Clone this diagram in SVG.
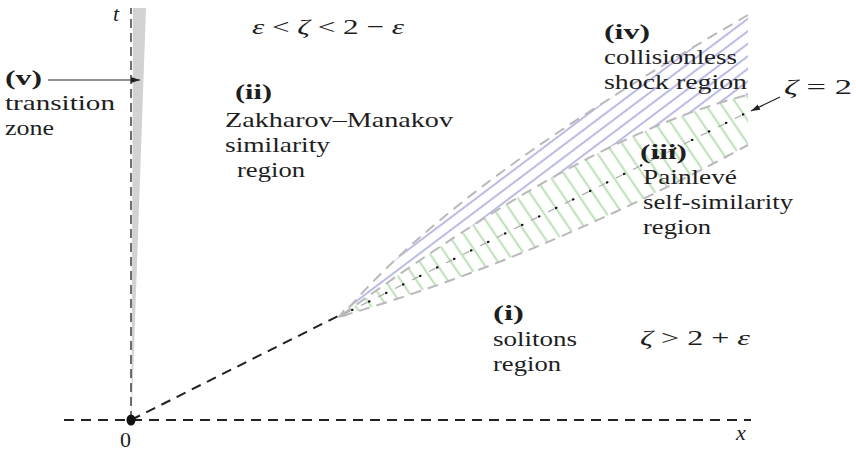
<svg xmlns="http://www.w3.org/2000/svg" width="856" height="455" viewBox="0 0 856 455">
<style>
.t{font-family:"Liberation Serif","Times New Roman",serif;font-size:22px;fill:#1e1e1e}
.b{font-weight:bold}
.i{font-style:italic}
.gb{fill:none;stroke:#b9b9b9;stroke-width:2;stroke-dasharray:11 7}
.ax{fill:none;stroke:#222;stroke-width:2;stroke-dasharray:10 7}
</style>
<defs>
<pattern id="blue" width="10" height="10" patternUnits="userSpaceOnUse" patternTransform="rotate(-37)">
<line x1="0" y1="5" x2="10" y2="5" stroke="#aaaadf" stroke-width="1.6"/>
</pattern>
<pattern id="green" width="13" height="13" patternUnits="userSpaceOnUse" patternTransform="rotate(56)">
<line x1="0" y1="6.5" x2="13" y2="6.5" stroke="#b4dbae" stroke-width="1.8"/>
</pattern>
<marker id="ah" markerWidth="10" markerHeight="8" refX="9" refY="4" orient="auto" markerUnits="userSpaceOnUse">
<path d="M0,1 L9,4 L0,7 Z" fill="#222"/>
</marker>
</defs>

<g id="transition-wedge">
<polygon points="131.5,420 133,8 146,8" fill="#d2d2d2"/>
</g>

<g id="region-iv-fill">
<path d="M342,315 C442,200 598,102 748,15 L748,95 C618,127 472,221 342,315 Z" fill="url(#blue)"/>
</g>
<g id="region-iii-fill">
<path d="M342,315 C472,221 618,127 748,95 L748,145 Q540,258 342,316 Z" fill="url(#green)"/>
</g>

<g id="connectors">
<line class="ax" x1="64" y1="420" x2="751" y2="420"/>
<line x1="131" y1="420" x2="131" y2="8" stroke="#222" stroke-width="1.3" stroke-dasharray="9 5"/>
<line class="ax" x1="131" y1="420" x2="338" y2="316"/>
<path class="gb" d="M748,15 C598,102 442,200 346,311"/>
<path class="gb" d="M342,315 C472,221 618,127 748,95" stroke-dasharray="10 8"/>
<path class="gb" d="M342,316 Q540,258 748,145" stroke-dasharray="10 8"/>
<line x1="344" y1="314" x2="748" y2="112" stroke="#aaaaaa" stroke-width="1.2" stroke-dasharray="7 12"/>
<line x1="352" y1="310" x2="748" y2="112" stroke="#111" stroke-width="2.2" stroke-linecap="round" stroke-dasharray="0.5 18.5"/>
<polygon points="337,318 347.5,316 343.5,309.5" fill="#b9b9b9"/>
<line x1="48" y1="80" x2="140" y2="80" stroke="#222" stroke-width="1.2" marker-end="url(#ah)"/>
<line x1="780" y1="97" x2="751" y2="111" stroke="#222" stroke-width="1.2" marker-end="url(#ah)"/>
<ellipse cx="131" cy="420" rx="4.5" ry="5.5" fill="#111"/>
</g>

<g id="axis-labels">
<text class="t i" x="113" y="21" font-size="24">t</text>
<text class="t" x="120" y="447" font-size="24">0</text>
<text class="t i" x="736" y="440" font-size="24">x</text>
</g>

<g id="cond-top">
<text class="t" x="252" y="34" textLength="152" lengthAdjust="spacingAndGlyphs"><tspan class="i">ε</tspan> &lt; <tspan class="i">ζ</tspan> &lt; 2 − <tspan class="i">ε</tspan></text>
</g>

<g id="node-v">
<text class="t b" x="5" y="85" textLength="37" lengthAdjust="spacingAndGlyphs">(v)</text>
<text class="t" x="5" y="110" textLength="110" lengthAdjust="spacingAndGlyphs">transition</text>
<text class="t" x="5" y="135" textLength="49" lengthAdjust="spacingAndGlyphs">zone</text>
</g>

<g id="node-ii">
<text class="t b" x="235" y="99" textLength="37" lengthAdjust="spacingAndGlyphs">(ii)</text>
<text class="t" x="225" y="127" textLength="228" lengthAdjust="spacingAndGlyphs">Zakharov–Manakov</text>
<text class="t" x="225" y="152" textLength="105" lengthAdjust="spacingAndGlyphs">similarity</text>
<text class="t" x="237" y="177" textLength="68" lengthAdjust="spacingAndGlyphs">region</text>
</g>

<g id="node-iv">
<text class="t b" x="604" y="39" textLength="46" lengthAdjust="spacingAndGlyphs">(iv)</text>
<text class="t" x="604" y="64" textLength="133" lengthAdjust="spacingAndGlyphs">collisionless</text>
<text class="t" x="604" y="89" textLength="143" lengthAdjust="spacingAndGlyphs">shock region</text>
</g>

<g id="label-zeta2">
<text class="t" x="784" y="94" textLength="68" lengthAdjust="spacingAndGlyphs"><tspan class="i">ζ</tspan> = 2</text>
</g>

<g id="node-iii">
<text class="t b" x="640" y="159" textLength="47" lengthAdjust="spacingAndGlyphs">(iii)</text>
<text class="t" x="643" y="184" textLength="94" lengthAdjust="spacingAndGlyphs">Painlevé</text>
<text class="t" x="643" y="209" textLength="150" lengthAdjust="spacingAndGlyphs">self-similarity</text>
<text class="t" x="643" y="234" textLength="68" lengthAdjust="spacingAndGlyphs">region</text>
</g>

<g id="node-i">
<text class="t b" x="493" y="320" textLength="31" lengthAdjust="spacingAndGlyphs">(i)</text>
<text class="t" x="493" y="346" textLength="84" lengthAdjust="spacingAndGlyphs">solitons</text>
<text class="t" x="493" y="371" textLength="68" lengthAdjust="spacingAndGlyphs">region</text>
</g>

<g id="cond-bottom">
<text class="t" x="640" y="345" textLength="110" lengthAdjust="spacingAndGlyphs"><tspan class="i">ζ</tspan> &gt; 2 + <tspan class="i">ε</tspan></text>
</g>
</svg>
